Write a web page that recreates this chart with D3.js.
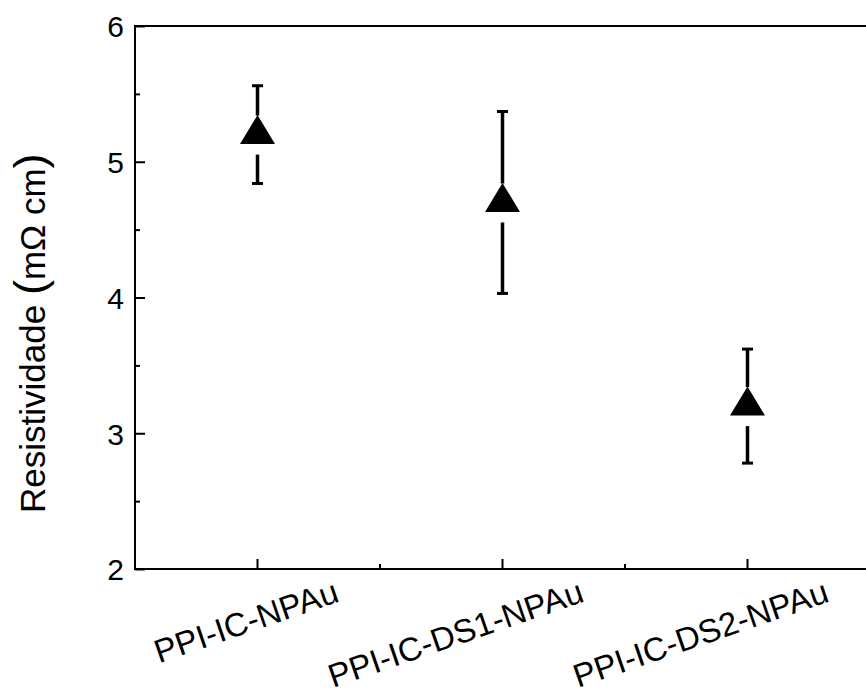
<!DOCTYPE html>
<html>
<head>
<meta charset="utf-8">
<script src="https://cdn.jsdelivr.net/npm/d3@7"></script>
<style>
  body { margin: 0; background: #fff; }
  text { font-family: "Liberation Sans", Arial, sans-serif; fill: #000; }
</style>
</head>
<body>
<script>
// values
const categories = ["PPI-IC-NPAu", "PPI-IC-DS1-NPAu", "PPI-IC-DS2-NPAu"];
const resistivity = [5.20, 4.70, 3.20];
const errors = [0.36, 0.67, 0.42];
const yTicks = [2, 3, 4, 5, 6];
const yMinorTicks = [2.5, 3.5, 4.5, 5.5];

const W = 866, H = 697;
const plotLeft = 135, plotRight = 870, plotTop = 26, plotBottom = 569;

const svg = d3.select("body").append("svg")
    .attr("width", W)
    .attr("height", H);

// x: one band per sample, the right edge sits just outside the window
const x = d3.scaleBand()
    .domain(categories)
    .range([plotLeft, plotRight])
    .padding(0);

const y = d3.scaleLinear()
    .domain([2, 6])
    .range([plotBottom, plotTop]);

// frame
svg.append("rect")
    .attr("x", plotLeft)
    .attr("y", plotTop)
    .attr("width", plotRight - plotLeft)
    .attr("height", plotBottom - plotTop)
    .attr("fill", "none")
    .attr("stroke", "#000")
    .attr("stroke-width", 2);

// y axis, ticks pointing in
const yAxis = svg.append("g")
    .attr("transform", `translate(${plotLeft},0)`)
    .call(d3.axisLeft(y).tickValues(yTicks).tickFormat(d3.format("d"))
        .tickSizeInner(-10).tickSizeOuter(0).tickPadding(11));
yAxis.select(".domain").remove();
yAxis.selectAll("line").attr("stroke-width", 2);
yAxis.selectAll("text").attr("font-size", 30).attr("fill", "#000")
    .attr("dy", "0.36em").style("font-family", "'Liberation Sans', Arial, sans-serif");

svg.append("g")
    .attr("transform", `translate(${plotLeft},0)`)
    .call(d3.axisLeft(y).tickValues(yMinorTicks).tickFormat("")
        .tickSizeInner(-5).tickSizeOuter(0))
    .call(g => g.select(".domain").remove())
    .selectAll("line").attr("stroke-width", 2);

// x axis, major at the samples, minor between them
const xAxis = svg.append("g")
    .attr("transform", `translate(0,${plotBottom})`)
    .call(d3.axisBottom(x).tickFormat("").tickSizeInner(-10).tickSizeOuter(0));
xAxis.select(".domain").remove();
xAxis.selectAll("line").attr("stroke-width", 2);

const xMinor = categories.slice(1).map(c => x(c));
svg.append("g").selectAll("line")
    .data(xMinor)
    .join("line")
    .attr("x1", d => d).attr("x2", d => d)
    .attr("y1", plotBottom).attr("y2", plotBottom - 5)
    .attr("stroke", "#000")
    .attr("stroke-width", 2);

// rotated sample labels
svg.append("g").selectAll("text")
    .data(categories)
    .join("text")
    .attr("text-anchor", "end")
    .attr("font-size", 33)
    .attr("transform", d => `translate(${x(d) + x.bandwidth() / 2 + 83},${plotBottom + 32}) rotate(-19)`)
    .text(d => d);

// y title
const title = svg.append("text")
    .attr("transform", `translate(45,513) rotate(-90)`)
    .attr("font-size", 35);
title.append("tspan").text("Resistividade ");
title.append("tspan").attr("font-size", 45).text("(");
title.append("tspan").text("m\u03A9 cm");
title.append("tspan").attr("font-size", 45).text(")");

// error bars with a gap around the symbol
const pts = categories.map((c, i) => ({
    cx: x(c) + x.bandwidth() / 2,
    v: resistivity[i],
    e: errors[i]
}));

const eb = svg.append("g").attr("stroke", "#000");
eb.selectAll(".up")
    .data(pts)
    .join("line")
    .attr("x1", d => d.cx).attr("x2", d => d.cx)
    .attr("y1", d => y(d.v + d.e)).attr("y2", d => y(d.v) - 19)
    .attr("stroke-width", 3.5);
eb.selectAll(".down")
    .data(pts)
    .join("line")
    .attr("x1", d => d.cx).attr("x2", d => d.cx)
    .attr("y1", d => y(d.v) + 20).attr("y2", d => y(d.v - d.e))
    .attr("stroke-width", 3.5);
eb.selectAll(".cap")
    .data(pts.flatMap(d => [d.v + d.e, d.v - d.e].map(v => ({cx: d.cx, v}))))
    .join("line")
    .attr("x1", d => d.cx - 5.5).attr("x2", d => d.cx + 5.5)
    .attr("y1", d => y(d.v)).attr("y2", d => y(d.v))
    .attr("stroke-width", 3);

// triangle symbols, centroid on the value
svg.append("g").selectAll("path")
    .data(pts)
    .join("path")
    .attr("d", d => {
        const cy = y(d.v);
        return `M${d.cx},${cy - 19.5}L${d.cx + 17.5},${cy + 9.5}L${d.cx - 17.5},${cy + 9.5}Z`;
    })
    .attr("fill", "#000");
</script>
</body>
</html>
